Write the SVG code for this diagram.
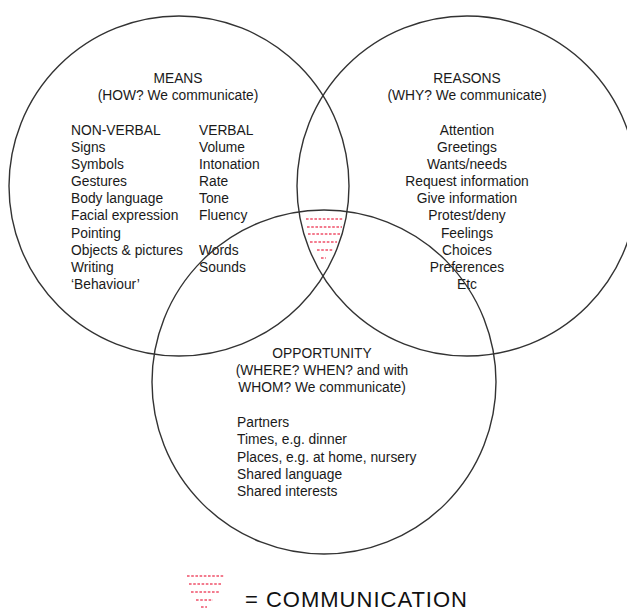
<svg xmlns="http://www.w3.org/2000/svg" width="627" height="613" viewBox="0 0 627 613">
<style>
.c{fill:none;stroke:#333;stroke-width:1.4}
.t{font-family:"Liberation Sans",Arial,sans-serif;font-size:13.8px;fill:#1a1a1a}
.m{text-anchor:middle}
.r{stroke:#f0506a;stroke-width:1.6;stroke-dasharray:2.6 1.6;fill:none}
</style>
<rect width="627" height="613" fill="#fff"/>
<g id="means">
<circle class="c" cx="179" cy="186" r="170"/>
<text class="t m" x="178" y="83">MEANS</text>
<text class="t m" x="178" y="100">(HOW? We communicate)</text>
<text class="t" x="71" y="135">NON-VERBAL</text>
<text class="t" x="71" y="152">Signs</text>
<text class="t" x="71" y="169">Symbols</text>
<text class="t" x="71" y="186">Gestures</text>
<text class="t" x="71" y="203">Body language</text>
<text class="t" x="71" y="220">Facial expression</text>
<text class="t" x="71" y="238">Pointing</text>
<text class="t" x="71" y="255">Objects &amp; pictures</text>
<text class="t" x="71" y="272">Writing</text>
<text class="t" x="71" y="289">&#8216;Behaviour&#8217;</text>
<text class="t" x="199" y="135">VERBAL</text>
<text class="t" x="199" y="152">Volume</text>
<text class="t" x="199" y="169">Intonation</text>
<text class="t" x="199" y="186">Rate</text>
<text class="t" x="199" y="203">Tone</text>
<text class="t" x="199" y="220">Fluency</text>
<text class="t" x="199" y="255">Words</text>
<text class="t" x="199" y="272">Sounds</text>
</g>
<g id="reasons">
<circle class="c" cx="467" cy="186" r="170"/>
<text class="t m" x="467" y="83">REASONS</text>
<text class="t m" x="467" y="100">(WHY? We communicate)</text>
<text class="t m" x="467" y="135">Attention</text>
<text class="t m" x="467" y="152">Greetings</text>
<text class="t m" x="467" y="169">Wants/needs</text>
<text class="t m" x="467" y="186">Request information</text>
<text class="t m" x="467" y="203">Give information</text>
<text class="t m" x="467" y="220">Protest/deny</text>
<text class="t m" x="467" y="238">Feelings</text>
<text class="t m" x="467" y="255">Choices</text>
<text class="t m" x="467" y="272">Preferences</text>
<text class="t m" x="467" y="289">Etc</text>
</g>
<g id="opportunity">
<circle class="c" cx="324" cy="382" r="172"/>
<text class="t m" x="322" y="358">OPPORTUNITY</text>
<text class="t m" x="322" y="375">(WHERE? WHEN? and with</text>
<text class="t m" x="322" y="392">WHOM? We communicate)</text>
<text class="t" x="237" y="427">Partners</text>
<text class="t" x="237" y="444">Times, e.g. dinner</text>
<text class="t" x="237" y="462">Places, e.g. at home, nursery</text>
<text class="t" x="237" y="479">Shared language</text>
<text class="t" x="237" y="496">Shared interests</text>
</g>
<g id="communication">
<path class="r" d="M306 219H343M307 227H342M308 234H341M310 242H337M317 250H333M321 258H326"/>
</g>
<g id="legend">
<path class="r" d="M187 576H224M189 584H222M191 592H220M196 600H213M201 607H207"/>
<text x="245" y="607" style="font-family:'Liberation Sans',Arial,sans-serif;font-size:22px;fill:#111" textLength="222">= COMMUNICATION</text>
</g>
</svg>
